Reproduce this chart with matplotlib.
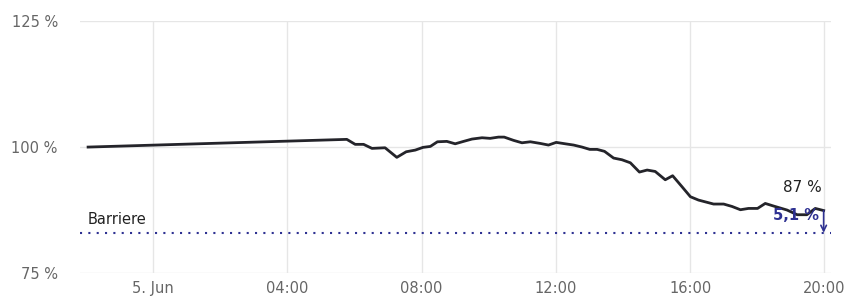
import matplotlib
matplotlib.use("Agg")
import matplotlib.pyplot as plt

# hours relative to 5 June 00:00
hours = [-1.94, 5.77, 6.02, 6.27, 6.52, 6.91, 7.26, 7.54, 7.81, 8.04, 8.26, 8.47,
         8.75, 9.00, 9.25, 9.50, 9.80, 10.04, 10.29, 10.46, 10.74, 10.99, 11.24,
         11.53, 11.78, 12.01, 12.28, 12.53, 12.78, 13.01, 13.23, 13.45, 13.72,
         13.97, 14.22, 14.49, 14.72, 14.96, 15.26, 15.48, 15.76, 16.01, 16.25,
         16.70, 17.00, 17.25, 17.50, 17.74, 18.01, 18.24, 18.49, 18.89, 19.19,
         19.48, 19.73, 19.98]
values = [100.0, 101.53, 100.54, 100.54, 99.74, 99.86, 97.96, 99.07, 99.40, 99.94,
          100.13, 101.05, 101.13, 100.65, 101.13, 101.59, 101.85, 101.73, 101.98,
          101.98, 101.33, 100.85, 101.05, 100.73, 100.40, 100.93, 100.65, 100.40,
          100.0, 99.54, 99.54, 99.15, 97.82, 97.48, 96.88, 95.04, 95.44, 95.16,
          93.51, 94.31, 92.12, 90.14, 89.48, 88.69, 88.69, 88.21, 87.56, 87.82,
          87.82, 88.81, 88.29, 87.50, 86.57, 86.57, 87.82, 87.40]
barrier = 83.0
xtick_pos = [0, 4, 8, 12, 16, 20]
xtick_labels = ["5. Jun", "04:00", "08:00", "12:00", "16:00", "20:00"]
ytick_pos = [75, 100, 125]
ytick_labels = ["75 %", "100 %", "125 %"]

navy = "#2e3192"
fig = plt.figure(figsize=(8.46, 3.02), dpi=100)
ax = fig.add_axes([0.0946, 0.096, 0.8877, 0.834])

ax.plot(hours, values, color="#24242a", lw=2.0, solid_joinstyle="round", zorder=3)
ax.axhline(barrier, color=navy, lw=1.5, ls=(0, (1, 3)), zorder=2)

ax.set_xlim(-2.18, 20.2)
ax.set_ylim(75, 125)
ax.set_xticks(xtick_pos)
ax.set_xticklabels(xtick_labels)
ax.set_yticks(ytick_pos)
ax.set_yticklabels(ytick_labels)
ax.grid(True, color="#e6e6e6", lw=1)
ax.set_axisbelow(True)
for s in ax.spines.values():
    s.set_visible(False)
ax.tick_params(length=0, colors="#666666", labelsize=10.5)
ax.tick_params(axis="y", pad=16)
ax.tick_params(axis="x", pad=6)

ax.text(-1.95, barrier + 1.2, "Barriere", fontsize=10.5, color="#222222", va="bottom", ha="left")

last_t, last_v = hours[-1], values[-1]
ax.annotate("", xy=(last_t, barrier), xytext=(last_t, last_v),
            arrowprops=dict(arrowstyle="->", color=navy, lw=1.2, shrinkA=0, shrinkB=0))
ax.text(last_t - 0.05, last_v + 3.0, "87 %", fontsize=11, color="#222222", ha="right", va="bottom")
ax.text(last_t - 0.15, last_v - 1.0, "5,1 %", fontsize=10.5, color=navy, fontweight="bold",
        ha="right", va="center")

fig.savefig("out.png", dpi=100)
